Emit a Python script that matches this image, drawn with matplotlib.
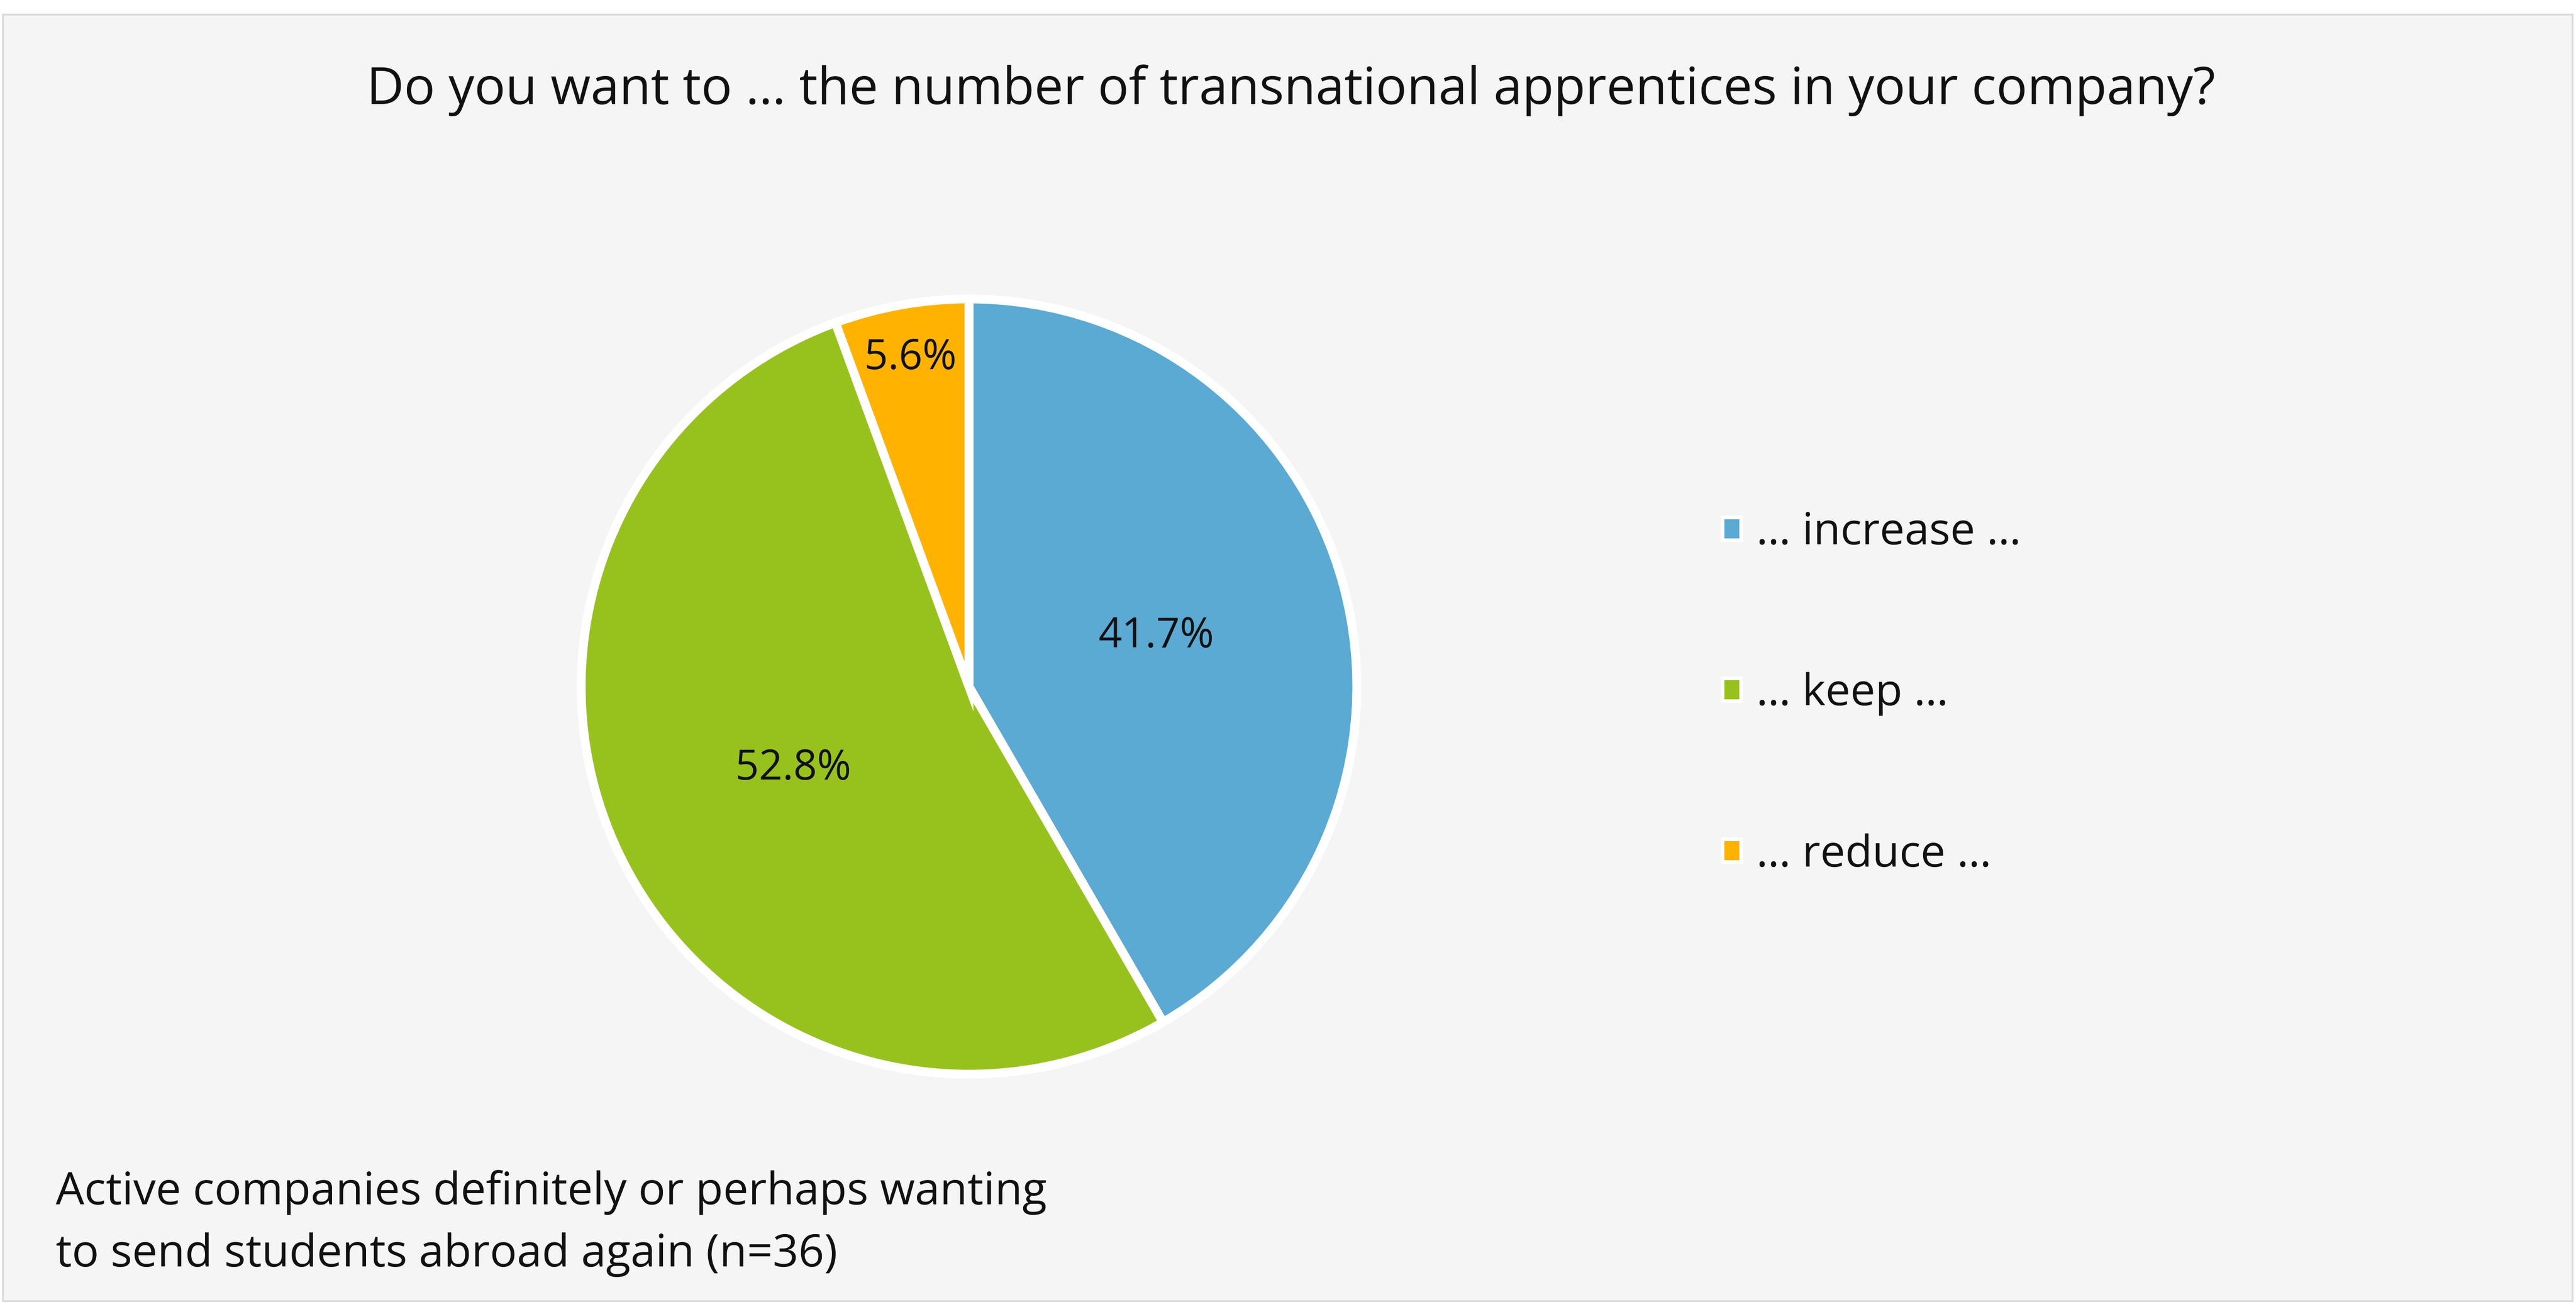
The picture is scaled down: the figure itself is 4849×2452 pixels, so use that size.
import matplotlib
matplotlib.use('Agg')
import matplotlib.pyplot as plt
import numpy as np
from matplotlib.patches import Patch, Rectangle

plt.rcParams['font.family'] = ['Open Sans', 'DejaVu Sans']

# --- data ---
title = "Do you want to \u2026 the number of transnational apprentices in your company?"
categories = ["\u2026 increase \u2026", "\u2026 keep \u2026", "\u2026 reduce \u2026"]
shares = [41.7, 52.8, 5.6]
note = "Active companies definitely or perhaps wanting\nto send students abroad again (n=36)"

colors = ['#5AAAD4', '#97C21E', '#FFB300']
bg = '#F5F5F5'

W, H, DPI = 4849, 2452, 100
fig = plt.figure(figsize=(W / DPI, H / DPI), dpi=DPI, facecolor='white')

# grey chart area with a faint frame (behind everything)
frame = Rectangle((5 / W, 2 / H), 4837 / W, (H - 29) / H,
                  transform=fig.transFigure, facecolor=bg,
                  edgecolor='#DADADA', linewidth=2.5, zorder=-10)
fig.patches.append(frame)

# pie axes: centre (1824, 1293) px, radius ~730 px
cx, cy, r = 1824, 1293, 730
ax = fig.add_axes([(cx - r) / W, (H - cy - r) / H, 2 * r / W, 2 * r / H])
ax.set_facecolor('none')
ax.set_zorder(2)
wedges, _ = ax.pie(shares, colors=colors, startangle=90, counterclock=False,
                   radius=1.0, wedgeprops=dict(edgecolor='white', linewidth=12))
ax.set_xlim(-1, 1)
ax.set_ylim(-1, 1)
ax.set_aspect('equal')

# percentage labels; the small slice gets its label near the rim
for w, v in zip(wedges, shares):
    mid = np.deg2rad((w.theta1 + w.theta2) / 2)
    dist = 0.86 if v < 10 else 0.5
    ax.text(dist * np.cos(mid), dist * np.sin(mid), f"{v:.1f}%",
            ha='center', va='center', fontsize=56, color='#111111')

fig.text(2430 / W, 1 - 170 / H, title, ha='center', va='center',
         fontsize=70, color='#111111')

handles = [Patch(facecolor=c, edgecolor='white', linewidth=5) for c in colors]
leg = fig.legend(handles, categories, loc='center left',
                 bbox_to_anchor=(3200 / W, 1 - 1307 / H), frameon=False,
                 fontsize=60, handlelength=0.42, handleheight=0.42,
                 handletextpad=0.35, labelspacing=2.65, borderpad=0,
                 labelcolor='#111111')
leg.set_zorder(3)

fig.text(105 / W, 1 - 2304 / H, note, ha='left', va='center',
         fontsize=61, color='#111111', linespacing=1.52)

fig.savefig('out.png', dpi=DPI, facecolor='white')
